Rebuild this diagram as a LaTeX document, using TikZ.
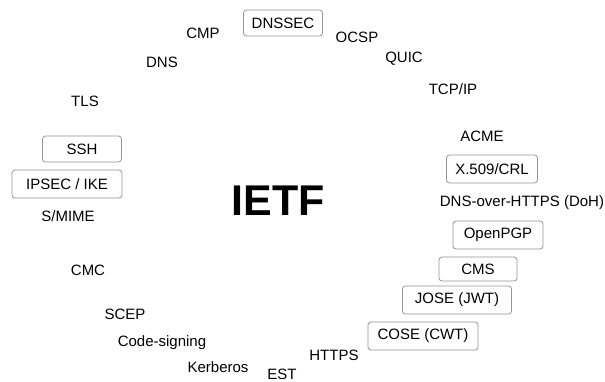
\documentclass[tikz,border=0pt]{standalone}
\usepackage{fontspec}
\setmainfont{Liberation Sans}
\begin{document}
\begin{tikzpicture}[x=1pt,y=-1pt,
  lbl/.style={inner sep=0pt, font=\fontsize{15}{18}\selectfont},
  std/.style={lbl, draw=gray!85, line width=0.8pt, rounded corners=3pt, minimum height=26pt}]
\useasboundingbox (0,0) rectangle (605,381);
\node[lbl, font=\bfseries\fontsize{43}{46}\selectfont] (ietf) at (278,201){IETF};
\node[std, minimum width=79pt] (dnssec) at (283,23){DNSSEC};
\node[lbl] (cmp) at (203,33){CMP};
\node[lbl] (ocsp) at (357,37){OCSP};
\node[lbl] (quic) at (404,59){QUIC};
\node[lbl] (tcpip) at (453,89){TCP/IP};
\node[lbl] (dns) at (162,62){DNS};
\node[lbl] (tls) at (85,101){TLS};
\node[lbl] (acme) at (482,136){ACME};
\node[std, minimum width=91pt, minimum height=28pt] (x509) at (492,169){X.509/CRL};
\node[std, minimum width=79pt] (ssh) at (82,149){SSH};
\node[std, minimum width=110pt, minimum height=28pt] (ipsec) at (67,184){IPSEC / IKE};
\node[lbl] (smime) at (68,216){S/MIME};
\node[lbl] (doh) at (522,203){DNS-over-HTTPS (DoH)};
\node[std, minimum width=90pt, minimum height=28pt] (openpgp) at (498,235){OpenPGP};
\node[std, minimum width=78pt, minimum height=24pt] (cms) at (478,269){CMS};
\node[std, minimum width=109pt, minimum height=28pt] (jose) at (457,300){JOSE (JWT)};
\node[std, minimum width=110pt, minimum height=28pt] (cose) at (423,336){COSE (CWT)};
\node[lbl] (cmc) at (88,270){CMC};
\node[lbl] (scep) at (125,314){SCEP};
\node[lbl] (codesign) at (162,343){Code-signing};
\node[lbl] (kerberos) at (218,367){Kerberos};
\node[lbl] (est) at (282,374){EST};
\node[lbl] (https) at (334,355){HTTPS};
\end{tikzpicture}
\end{document}
